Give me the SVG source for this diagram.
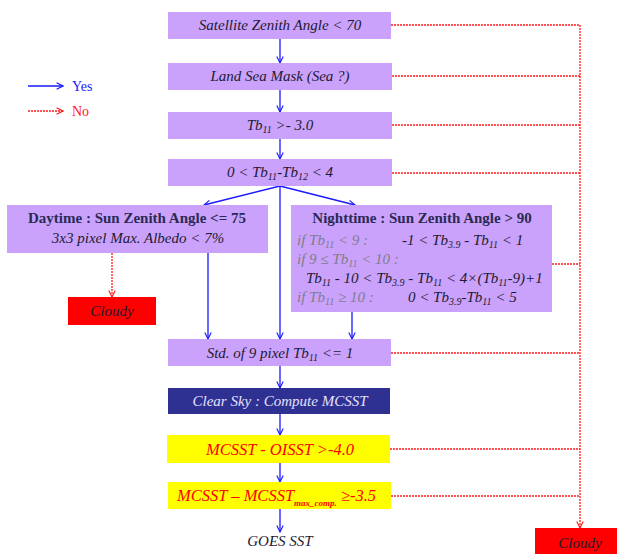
<svg xmlns="http://www.w3.org/2000/svg" width="617" height="554" viewBox="0 0 617 554">
  <style>
    .box { fill: #cba2fb; }
    .t { font-family: 'Liberation Serif', 'DejaVu Serif', serif; font-style: italic; font-size: 15px; fill: #1c1a33; }
    .c { text-anchor: middle; }
    .b { font-style: normal; font-weight: bold; fill: #2a2a55; }
    .g { fill: #7d7d8c; }
    .r { fill: #ff0000; font-size: 16.5px; }
    .w { fill: #e6e0ff; }
    .yes { stroke: #1a1aff; stroke-width: 1.3; fill: none; }
    .no { stroke: #ff1a1a; stroke-width: 1.3; fill: none; stroke-dasharray: 2 1; }
    .leg { font-family: 'Liberation Serif', 'DejaVu Serif', serif; font-size: 14px; }
  </style>
  <defs>
    <marker id="ah-yes" viewBox="0 0 10 10" refX="9" refY="5" markerWidth="8" markerHeight="8" markerUnits="userSpaceOnUse" orient="auto">
      <path d="M1,1 L9,5 L1,9" fill="none" stroke="#1a1aff" stroke-width="1.4"/>
    </marker>
    <marker id="ah-no" viewBox="0 0 10 10" refX="9" refY="5" markerWidth="8" markerHeight="8" markerUnits="userSpaceOnUse" orient="auto">
      <path d="M1,1 L9,5 L1,9" fill="none" stroke="#ff1a1a" stroke-width="1.4"/>
    </marker>
  </defs>

  <rect width="617" height="554" fill="#ffffff"/>

  <!-- legend -->
  <g id="legend">
    <line class="yes" x1="28" y1="86" x2="63" y2="86" marker-end="url(#ah-yes)"/>
    <text class="leg" x="72" y="91" fill="#1a1aff">Yes</text>
    <line class="no" x1="28" y1="111" x2="63" y2="111" marker-end="url(#ah-no)"/>
    <text class="leg" x="72" y="116" fill="#ff1a1a">No</text>
  </g>

  <!-- connectors -->
  <g id="connectors">
    <line class="yes" x1="280" y1="39" x2="280" y2="63" marker-end="url(#ah-yes)"/>
    <line class="yes" x1="280" y1="90" x2="280" y2="112" marker-end="url(#ah-yes)"/>
    <line class="yes" x1="280" y1="139" x2="280" y2="159" marker-end="url(#ah-yes)"/>
    <line class="yes" x1="280" y1="186" x2="204" y2="205" marker-end="url(#ah-yes)"/>
    <line class="yes" x1="280" y1="186" x2="355" y2="205" marker-end="url(#ah-yes)"/>
    <line class="yes" x1="280" y1="186" x2="280" y2="339" marker-end="url(#ah-yes)"/>
    <line class="yes" x1="208" y1="253" x2="208" y2="339" marker-end="url(#ah-yes)"/>
    <line class="yes" x1="352" y1="312" x2="352" y2="339" marker-end="url(#ah-yes)"/>
    <line class="yes" x1="280" y1="366" x2="280" y2="388" marker-end="url(#ah-yes)"/>
    <line class="yes" x1="280" y1="414" x2="280" y2="435" marker-end="url(#ah-yes)"/>
    <line class="yes" x1="280" y1="463" x2="280" y2="482" marker-end="url(#ah-yes)"/>
    <line class="yes" x1="280" y1="509" x2="280" y2="532" marker-end="url(#ah-yes)"/>

    <line class="no" x1="391" y1="25" x2="580" y2="25"/>
    <line class="no" x1="392" y1="76" x2="580" y2="76"/>
    <line class="no" x1="392" y1="125" x2="580" y2="125"/>
    <line class="no" x1="392" y1="173" x2="580" y2="173"/>
    <line class="no" x1="552" y1="264" x2="580" y2="264"/>
    <line class="no" x1="391" y1="353" x2="580" y2="353"/>
    <line class="no" x1="390" y1="449" x2="580" y2="449"/>
    <line class="no" x1="391" y1="496" x2="580" y2="496"/>
    <line class="no" x1="580" y1="25" x2="580" y2="528" marker-end="url(#ah-no)"/>
    <line class="no" x1="112" y1="253" x2="112" y2="297" marker-end="url(#ah-no)"/>
  </g>

  <g id="sat-zenith">
    <rect class="box" x="168" y="12" width="223" height="27"/>
    <text class="t c" x="280" y="30">Satellite Zenith Angle &lt; 70</text>
  </g>

  <g id="land-sea">
    <rect class="box" x="168" y="63" width="224" height="27"/>
    <text class="t c" x="280" y="81">Land Sea Mask (Sea ?)</text>
  </g>

  <g id="tb11-check">
    <rect class="box" x="168" y="112" width="224" height="27"/>
    <text class="t c" x="280" y="130">Tb<tspan font-size="10" dy="3">11</tspan><tspan dy="-3"> &gt;- 3.0</tspan></text>
  </g>

  <g id="split-window">
    <rect class="box" x="168" y="159" width="224" height="27"/>
    <text class="t c" x="280" y="177">0 &lt; Tb<tspan font-size="10" dy="3">11</tspan><tspan dy="-3">-Tb</tspan><tspan font-size="10" dy="3">12</tspan><tspan dy="-3"> &lt; 4</tspan></text>
  </g>

  <g id="daytime">
    <rect class="box" x="7" y="205" width="261" height="48"/>
    <text class="t b c" x="137" y="223">Daytime : Sun Zenith Angle &lt;= 75</text>
    <text class="t c" x="138" y="243">3x3 pixel Max.  Albedo &lt; 7%</text>
  </g>

  <g id="cloudy-day">
    <rect x="68" y="297" width="88" height="28" fill="#ff0000"/>
    <text class="t c" x="112" y="316" fill="#ffffff">Cloudy</text>
  </g>

  <g id="nighttime">
    <rect class="box" x="291" y="205" width="261" height="107"/>
    <text class="t b c" x="422" y="223">Nighttime : Sun Zenith Angle &gt; 90</text>
    <text class="t g" x="297" y="245">if Tb<tspan font-size="10" dy="3">11</tspan><tspan dy="-3"> &lt; 9   :</tspan></text>
    <text class="t" x="402" y="245">-1 &lt; Tb<tspan font-size="10" dy="3">3.9</tspan><tspan dy="-3"> - Tb</tspan><tspan font-size="10" dy="3">11</tspan><tspan dy="-3"> &lt; 1</tspan></text>
    <text class="t g" x="297" y="264">if 9 ≤ Tb<tspan font-size="10" dy="3">11</tspan><tspan dy="-3"> &lt; 10 :</tspan></text>
    <text class="t" x="306" y="283">Tb<tspan font-size="10" dy="3">11</tspan><tspan dy="-3"> - 10 &lt; Tb</tspan><tspan font-size="10" dy="3">3.9</tspan><tspan dy="-3"> - Tb</tspan><tspan font-size="10" dy="3">11</tspan><tspan dy="-3"> &lt; 4×(Tb</tspan><tspan font-size="10" dy="3">11</tspan><tspan dy="-3">-9)+1</tspan></text>
    <text class="t g" x="297" y="302">if Tb<tspan font-size="10" dy="3">11</tspan><tspan dy="-3"> ≥ 10 :</tspan></text>
    <text class="t" x="408" y="302">0 &lt; Tb<tspan font-size="10" dy="3">3.9</tspan><tspan dy="-3">-Tb</tspan><tspan font-size="10" dy="3">11</tspan><tspan dy="-3"> &lt; 5</tspan></text>
  </g>

  <g id="uniformity">
    <rect class="box" x="168" y="339" width="223" height="27"/>
    <text class="t c" x="280" y="358">Std. of 9 pixel Tb<tspan font-size="10" dy="3">11</tspan><tspan dy="-3"> &lt;= 1</tspan></text>
  </g>

  <g id="clear-sky">
    <rect x="168" y="388" width="222" height="26" fill="#2e3192"/>
    <text class="t c w" x="280" y="406">Clear Sky : Compute MCSST</text>
  </g>

  <g id="oisst-check">
    <rect x="167" y="435" width="223" height="28" fill="#ffff00"/>
    <text class="t c r" x="280" y="455">MCSST - OISST &gt;-4.0</text>
  </g>

  <g id="max-comp-check">
    <rect x="168" y="482" width="223" height="27" fill="#ffff00"/>
    <text class="t r" x="177" y="501" font-size="17.5">MCSST – MCSST<tspan font-size="9" font-weight="bold" dy="5">max_comp.</tspan><tspan dy="-5"> ≥-3.5</tspan></text>
  </g>

  <g id="goes-sst">
    <text class="t c" x="280" y="546">GOES SST</text>
  </g>

  <g id="cloudy-final">
    <rect x="535" y="528" width="82" height="26" fill="#ff0000"/>
    <text class="t c" x="580" y="548" fill="#ffffff">Cloudy</text>
  </g>
</svg>
